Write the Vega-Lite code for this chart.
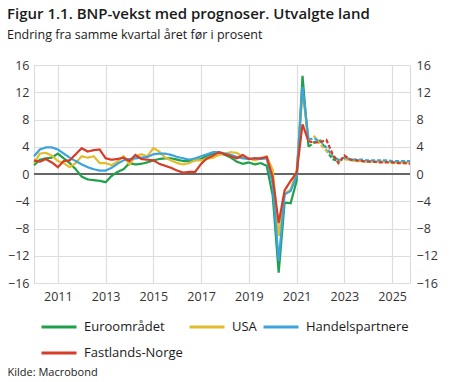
{
  "$schema": "https://vega.github.io/schema/vega-lite/v6.json",
  "width": 376,
  "height": 218,
  "autosize": {"type": "none"},
  "padding": {"left": 34, "top": 65, "right": 40, "bottom": 99},
  "background": "white",
  "title": {
    "text": "Figur 1.1. BNP-vekst med prognoser. Utvalgte land",
    "subtitle": "Endring fra samme kvartal året før i prosent",
    "anchor": "start",
    "frame": "group",
    "dx": -27,
    "offset": 18,
    "font": "Open Sans",
    "fontSize": 15,
    "fontWeight": 600,
    "color": "#1a1a1a",
    "subtitleFont": "Open Sans",
    "subtitleFontSize": 12.5,
    "subtitleColor": "#1a1a1a",
    "subtitlePadding": 7
  },
  "config": {
    "font": "Open Sans",
    "view": {"stroke": "#d9d9d9", "strokeWidth": 1},
    "axis": {
      "labelFont": "Open Sans",
      "labelFontSize": 12.5,
      "labelColor": "#333333",
      "gridColor": "#dddddd",
      "gridWidth": 1.2,
      "ticks": false,
      "domain": false
    }
  },
  "datasets": {
    "gdp": [
      {"d": "2010-01-01", "k": "a", "Euroområdet": 1.3, "USA": 1.6, "Handelspartnere": 2.6, "Fastlands-Norge": 2.0},
      {"d": "2010-04-01", "k": "a", "Euroområdet": 2.1, "USA": 3.0, "Handelspartnere": 3.6, "Fastlands-Norge": 1.8},
      {"d": "2010-07-01", "k": "a", "Euroområdet": 2.3, "USA": 3.1, "Handelspartnere": 3.9, "Fastlands-Norge": 2.2},
      {"d": "2010-10-01", "k": "a", "Euroområdet": 2.4, "USA": 2.7, "Handelspartnere": 3.9, "Fastlands-Norge": 1.7},
      {"d": "2011-01-01", "k": "a", "Euroområdet": 3.0, "USA": 1.9, "Handelspartnere": 3.6, "Fastlands-Norge": 1.0},
      {"d": "2011-04-01", "k": "a", "Euroområdet": 2.3, "USA": 1.6, "Handelspartnere": 3.0, "Fastlands-Norge": 1.9},
      {"d": "2011-07-01", "k": "a", "Euroområdet": 1.6, "USA": 1.0, "Handelspartnere": 2.4, "Fastlands-Norge": 2.0},
      {"d": "2011-10-01", "k": "a", "Euroområdet": 0.7, "USA": 1.6, "Handelspartnere": 1.9, "Fastlands-Norge": 2.9},
      {"d": "2012-01-01", "k": "a", "Euroområdet": -0.4, "USA": 2.6, "Handelspartnere": 1.4, "Fastlands-Norge": 3.8},
      {"d": "2012-04-01", "k": "a", "Euroområdet": -0.8, "USA": 2.4, "Handelspartnere": 1.0, "Fastlands-Norge": 3.3},
      {"d": "2012-07-01", "k": "a", "Euroområdet": -0.9, "USA": 2.6, "Handelspartnere": 0.7, "Fastlands-Norge": 3.5},
      {"d": "2012-10-01", "k": "a", "Euroområdet": -1.0, "USA": 1.6, "Handelspartnere": 0.5, "Fastlands-Norge": 3.6},
      {"d": "2013-01-01", "k": "a", "Euroområdet": -1.2, "USA": 1.6, "Handelspartnere": 0.5, "Fastlands-Norge": 2.3},
      {"d": "2013-04-01", "k": "a", "Euroområdet": -0.3, "USA": 1.3, "Handelspartnere": 0.9, "Fastlands-Norge": 2.1},
      {"d": "2013-07-01", "k": "a", "Euroområdet": 0.3, "USA": 1.8, "Handelspartnere": 1.5, "Fastlands-Norge": 2.2},
      {"d": "2013-10-01", "k": "a", "Euroområdet": 0.7, "USA": 2.6, "Handelspartnere": 2.0, "Fastlands-Norge": 2.4},
      {"d": "2014-01-01", "k": "a", "Euroområdet": 1.6, "USA": 1.4, "Handelspartnere": 2.2, "Fastlands-Norge": 1.9},
      {"d": "2014-04-01", "k": "a", "Euroområdet": 1.4, "USA": 2.6, "Handelspartnere": 2.3, "Fastlands-Norge": 2.8},
      {"d": "2014-07-01", "k": "a", "Euroområdet": 1.5, "USA": 2.9, "Handelspartnere": 2.4, "Fastlands-Norge": 2.2},
      {"d": "2014-10-01", "k": "a", "Euroområdet": 1.7, "USA": 2.6, "Handelspartnere": 2.5, "Fastlands-Norge": 2.1},
      {"d": "2015-01-01", "k": "a", "Euroområdet": 2.0, "USA": 3.8, "Handelspartnere": 2.9, "Fastlands-Norge": 2.0},
      {"d": "2015-04-01", "k": "a", "Euroområdet": 2.2, "USA": 3.3, "Handelspartnere": 3.0, "Fastlands-Norge": 1.5},
      {"d": "2015-07-01", "k": "a", "Euroområdet": 2.3, "USA": 2.4, "Handelspartnere": 3.0, "Fastlands-Norge": 1.2},
      {"d": "2015-10-01", "k": "a", "Euroområdet": 2.3, "USA": 2.0, "Handelspartnere": 2.8, "Fastlands-Norge": 0.9},
      {"d": "2016-01-01", "k": "a", "Euroområdet": 2.1, "USA": 1.6, "Handelspartnere": 2.5, "Fastlands-Norge": 0.5},
      {"d": "2016-04-01", "k": "a", "Euroområdet": 1.9, "USA": 1.4, "Handelspartnere": 2.3, "Fastlands-Norge": 0.2},
      {"d": "2016-07-01", "k": "a", "Euroområdet": 1.9, "USA": 1.6, "Handelspartnere": 2.1, "Fastlands-Norge": 0.3},
      {"d": "2016-10-01", "k": "a", "Euroområdet": 2.0, "USA": 2.0, "Handelspartnere": 2.3, "Fastlands-Norge": 0.3},
      {"d": "2017-01-01", "k": "a", "Euroområdet": 2.2, "USA": 2.0, "Handelspartnere": 2.6, "Fastlands-Norge": 1.5},
      {"d": "2017-04-01", "k": "a", "Euroområdet": 2.7, "USA": 2.2, "Handelspartnere": 2.9, "Fastlands-Norge": 2.3},
      {"d": "2017-07-01", "k": "a", "Euroområdet": 3.0, "USA": 2.4, "Handelspartnere": 3.2, "Fastlands-Norge": 2.7},
      {"d": "2017-10-01", "k": "a", "Euroområdet": 3.1, "USA": 2.8, "Handelspartnere": 3.2, "Fastlands-Norge": 3.2},
      {"d": "2018-01-01", "k": "a", "Euroområdet": 2.8, "USA": 3.0, "Handelspartnere": 3.0, "Fastlands-Norge": 2.9},
      {"d": "2018-04-01", "k": "a", "Euroområdet": 2.4, "USA": 3.2, "Handelspartnere": 2.8, "Fastlands-Norge": 2.6},
      {"d": "2018-07-01", "k": "a", "Euroområdet": 1.8, "USA": 3.1, "Handelspartnere": 2.5, "Fastlands-Norge": 2.3},
      {"d": "2018-10-01", "k": "a", "Euroområdet": 1.5, "USA": 2.5, "Handelspartnere": 2.3, "Fastlands-Norge": 2.8},
      {"d": "2019-01-01", "k": "a", "Euroområdet": 1.7, "USA": 2.3, "Handelspartnere": 2.2, "Fastlands-Norge": 2.2},
      {"d": "2019-04-01", "k": "a", "Euroområdet": 1.4, "USA": 2.0, "Handelspartnere": 2.3, "Fastlands-Norge": 2.3},
      {"d": "2019-07-01", "k": "a", "Euroområdet": 1.6, "USA": 2.3, "Handelspartnere": 2.2, "Fastlands-Norge": 2.3},
      {"d": "2019-10-01", "k": "a", "Euroområdet": 1.2, "USA": 2.6, "Handelspartnere": 2.3, "Fastlands-Norge": 2.5},
      {"d": "2020-01-01", "k": "a", "Euroområdet": -3.2, "USA": 0.6, "Handelspartnere": -1.5, "Fastlands-Norge": -0.5},
      {"d": "2020-04-01", "k": "a", "Euroområdet": -14.5, "USA": -9.1, "Handelspartnere": -12.8, "Fastlands-Norge": -7.2},
      {"d": "2020-07-01", "k": "a", "Euroområdet": -4.2, "USA": -2.9, "Handelspartnere": -3.0, "Fastlands-Norge": -2.4},
      {"d": "2020-10-01", "k": "a", "Euroområdet": -4.3, "USA": -2.3, "Handelspartnere": -2.5, "Fastlands-Norge": -1.0},
      {"d": "2021-01-01", "k": "a", "Euroområdet": -1.0, "USA": 0.5, "Handelspartnere": -0.3, "Fastlands-Norge": 0.2},
      {"d": "2021-04-01", "k": "a", "Euroområdet": 14.4, "USA": 12.2, "Handelspartnere": 12.8, "Fastlands-Norge": 7.3},
      {"d": "2021-07-01", "k": "a", "Euroområdet": 4.0, "USA": 4.9, "Handelspartnere": 5.1, "Fastlands-Norge": 4.8},
      {"d": "2021-07-01", "k": "f", "Euroområdet": 4.0, "USA": 4.9, "Handelspartnere": 5.1, "Fastlands-Norge": 4.8},
      {"d": "2021-10-01", "k": "f", "Euroområdet": 4.7, "USA": 5.5, "Handelspartnere": 5.2, "Fastlands-Norge": 4.6},
      {"d": "2022-01-01", "k": "f", "Euroområdet": 4.9, "USA": 4.3, "Handelspartnere": 4.8, "Fastlands-Norge": 4.7},
      {"d": "2022-04-01", "k": "f", "Euroområdet": 3.5, "USA": 3.4, "Handelspartnere": 3.9, "Fastlands-Norge": 5.0},
      {"d": "2022-07-01", "k": "f", "Euroområdet": 2.2, "USA": 2.8, "Handelspartnere": 2.6, "Fastlands-Norge": 3.0},
      {"d": "2022-10-01", "k": "f", "Euroområdet": 1.9, "USA": 2.0, "Handelspartnere": 2.1, "Fastlands-Norge": 1.6},
      {"d": "2023-01-01", "k": "f", "Euroområdet": 2.3, "USA": 2.2, "Handelspartnere": 2.4, "Fastlands-Norge": 2.7},
      {"d": "2023-04-01", "k": "f", "Euroområdet": 2.1, "USA": 2.0, "Handelspartnere": 2.2, "Fastlands-Norge": 2.1},
      {"d": "2023-07-01", "k": "f", "Euroområdet": 2.0, "USA": 1.9, "Handelspartnere": 2.1, "Fastlands-Norge": 2.0},
      {"d": "2023-10-01", "k": "f", "Euroområdet": 1.9, "USA": 1.9, "Handelspartnere": 2.1, "Fastlands-Norge": 1.9},
      {"d": "2024-01-01", "k": "f", "Euroområdet": 1.9, "USA": 1.8, "Handelspartnere": 2.0, "Fastlands-Norge": 1.8},
      {"d": "2024-04-01", "k": "f", "Euroområdet": 1.8, "USA": 1.8, "Handelspartnere": 2.0, "Fastlands-Norge": 1.8},
      {"d": "2024-07-01", "k": "f", "Euroområdet": 1.8, "USA": 1.8, "Handelspartnere": 2.0, "Fastlands-Norge": 1.7},
      {"d": "2024-10-01", "k": "f", "Euroområdet": 1.8, "USA": 1.8, "Handelspartnere": 2.0, "Fastlands-Norge": 1.7},
      {"d": "2025-01-01", "k": "f", "Euroområdet": 1.7, "USA": 1.7, "Handelspartnere": 1.9, "Fastlands-Norge": 1.7},
      {"d": "2025-04-01", "k": "f", "Euroområdet": 1.7, "USA": 1.7, "Handelspartnere": 1.9, "Fastlands-Norge": 1.6},
      {"d": "2025-07-01", "k": "f", "Euroområdet": 1.7, "USA": 1.7, "Handelspartnere": 1.9, "Fastlands-Norge": 1.6},
      {"d": "2025-10-01", "k": "f", "Euroområdet": 1.7, "USA": 1.7, "Handelspartnere": 1.9, "Fastlands-Norge": 1.5}
    ],
    "zero": [{"z": 0}]
  },
  "layer": [
    {
      "data": {"name": "zero"},
      "mark": {"type": "rule", "color": "#666666", "strokeWidth": 2},
      "encoding": {
        "y": {
          "field": "z",
          "type": "quantitative",
          "scale": {"domain": [-16, 16], "nice": false, "zero": false},
          "axis": {
            "orient": "right",
            "title": null,
            "values": [-16, -12, -8, -4, 0, 4, 8, 12, 16],
            "grid": false,
            "labelPadding": 6
          }
        }
      }
    },
    {
      "data": {"name": "gdp"},
      "transform": [
        {"fold": ["Euroområdet", "USA", "Handelspartnere", "Fastlands-Norge"], "as": ["s", "v"]}
      ],
      "mark": {"type": "line", "strokeWidth": 2.2},
      "encoding": {
        "x": {
          "field": "d",
          "type": "temporal",
          "scale": {"type": "utc", "domain": [{"year": 2010, "month": 1, "date": 1, "utc": true}, {"year": 2025, "month": 10, "date": 1, "utc": true}]},
          "axis": {
            "values": [
              {"year": 2011, "utc": true}, {"year": 2013, "utc": true}, {"year": 2015, "utc": true}, {"year": 2017, "utc": true},
              {"year": 2019, "utc": true}, {"year": 2021, "utc": true}, {"year": 2023, "utc": true}, {"year": 2025, "utc": true}
            ],
            "format": "%Y",
            "formatType": "utc",
            "grid": true,
            "labelPadding": 7,
            "title": "Kilde: Macrobond",
            "titleAnchor": "start",
            "titleX": -27,
            "titleY": 92,
            "titleBaseline": "alphabetic",
            "titleFontSize": 11,
            "titleFontWeight": "normal",
            "titleColor": "#1a1a1a"
          }
        },
        "y": {
          "field": "v",
          "type": "quantitative",
          "scale": {"domain": [-16, 16], "nice": false, "zero": false},
          "axis": {
            "orient": "left",
            "title": null,
            "values": [-16, -12, -8, -4, 0, 4, 8, 12, 16],
            "grid": true,
            "labelPadding": 5
          }
        },
        "color": {
          "field": "s",
          "type": "nominal",
          "scale": {
            "domain": ["Euroområdet", "USA", "Handelspartnere", "Fastlands-Norge"],
            "range": ["#1fa04a", "#e2bd2c", "#3ca3dc", "#d63c27"]
          },
          "legend": {
            "title": null,
            "orient": "none",
            "legendX": 6,
            "legendY": 243,
            "direction": "horizontal",
            "columns": 3,
            "symbolType": "stroke",
            "symbolSize": 1225,
            "symbolStrokeWidth": 3,
            "labelFontSize": 13,
            "labelColor": "#1a1a1a",
            "labelOffset": 6,
            "columnPadding": 0,
            "rowPadding": -10,
            "padding": 0
          }
        },
        "strokeDash": {
          "field": "k",
          "type": "nominal",
          "scale": {"domain": ["a", "f"], "range": [[1, 0], [4, 2]]},
          "legend": null
        }
      }
    }
  ],
  "resolve": {"scale": {"y": "independent"}}
}
